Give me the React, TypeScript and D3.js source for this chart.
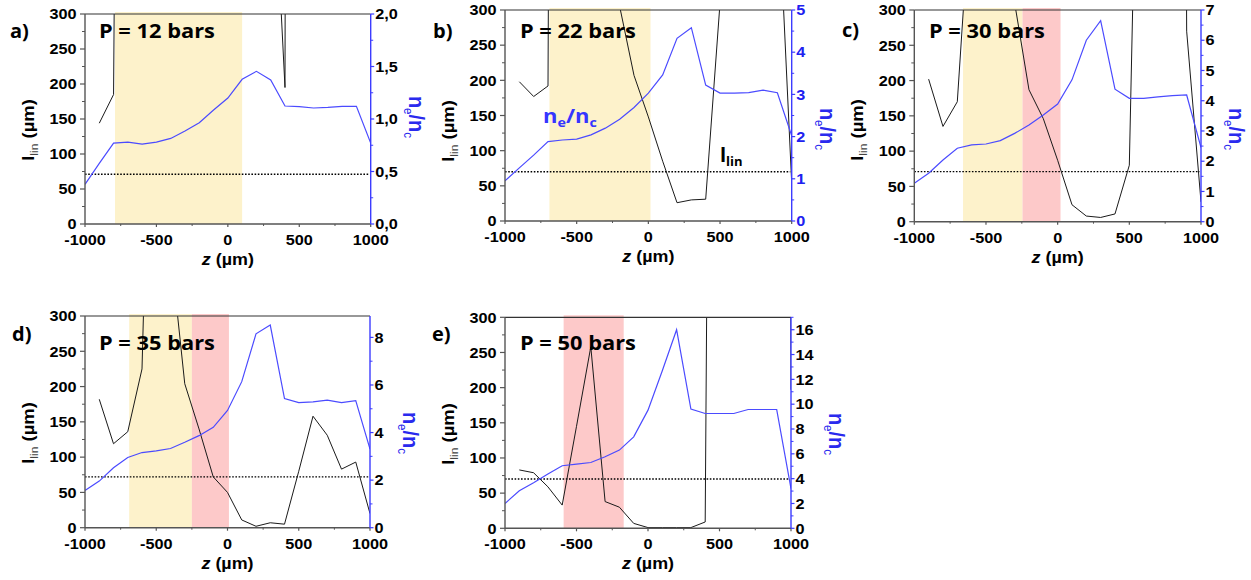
import React from 'react';
import * as d3 from 'd3';

// ---------- DATA ----------
const zPos = [-1000, -900, -800, -700, -600, -500, -400, -300, -200, -100, 0, 100, 200, 300, 400, 500, 600, 700, 800, 900, 1000];

// l_lin (µm) — values above 300 run off the top of the frame
const llinA = [null, 144, 185, 3000, 3000, 3000, 3000, 3000, 3000, 3000, 3000, 3000, 3000, 600, 195, 10000, 10000, 10000, 10000, 10000, 246];
const llinB = [null, 198, 177, 192, 5000, 5000, 5000, 5000, 305, 207, 148, 85, 26, 30, 31, 310, 5000, 5000, 5000, 490, 54];
const llinC = [null, 202, 135, 170, 480, 5000, 5000, 310, 187, 146, 87, 24, 8, 6, 11, 80, 1036, 5000, 5000, 270, 28];
const llinD = [null, 182, 119, 136, 225, 975, 396, 204, 140, 72, 50, 11, 2, 7, 5, 80, 158, 131, 83, 93, 20];
const llinE = [null, 83, 79, 59, 33, 145, 258, 38, 30, 7, 1, 1, 1, 1, 9, 2920, 5000, 5000, 5000, 10000, 197];

// n_e / n_c
const neA = [0.378, 0.578, 0.77, 0.78, 0.76, 0.78, 0.815, 0.886, 0.965, 1.086, 1.2, 1.378, 1.454, 1.371, 1.124, 1.117, 1.105, 1.11, 1.12, 1.12, 0.77];
const neB = [0.95, 1.26, 1.56, 1.88, 1.92, 1.94, 2.04, 2.2, 2.41, 2.69, 3.03, 3.46, 4.33, 4.58, 3.22, 3.03, 3.03, 3.04, 3.1, 3.04, 2.02];
const neC = [1.27, 1.6, 2.04, 2.43, 2.54, 2.57, 2.68, 2.92, 3.2, 3.53, 3.89, 4.69, 6.0, 6.65, 4.38, 4.08, 4.08, 4.13, 4.17, 4.19, 2.45];
const neD = [1.56, 1.96, 2.52, 2.95, 3.16, 3.23, 3.33, 3.59, 3.87, 4.22, 4.93, 6.14, 8.15, 8.52, 5.43, 5.26, 5.29, 5.36, 5.26, 5.34, 3.3];
const neE = [2.0, 3.03, 3.67, 4.37, 5.04, 5.17, 5.3, 5.76, 6.3, 7.37, 9.52, 12.7, 16.0, 9.6, 9.25, 9.25, 9.25, 9.57, 9.57, 9.57, 3.2];

// shaded z-ranges
const yellowBands = [[-790, 100], [-690, 15], [-660, -245], [-690, -250], null];
const redBands = [null, null, [-245, 20], [-250, 10], [-590, -170]];

const threshold = [71, 70, 71, 72, 70];
const pressures = [12, 22, 30, 35, 50];
const panelLetters = ['a)', 'b)', 'c)', 'd)', 'e)'];

const leftTicks = [0, 50, 100, 150, 200, 250, 300];
const leftMinor = [25, 75, 125, 175, 225, 275];
const xTicks = [-1000, -500, 0, 500, 1000];
const xMinor = [-750, -250, 250, 750];
const rightMax = [2, 5, 7, 8.9, 17];
const rightStep = [0.5, 1, 1, 2, 2];
const rightMinorStep = [0.25, 0.5, 0.5, 1, 1];

// ---------- LAYOUT ----------
const layouts = [
  { left: 85, right: 370.7, top: 14, bottom: 224, lx: 10, ly: 38, px: 99, py: 38, rtDx: 38, rtY: 117, ltY: 130, rColor: '#000' },
  { left: 505, right: 791.7, top: 10, bottom: 221, lx: 433, ly: 38, px: 520, py: 38, rtDx: 28, rtY: 129, ltY: 131, rColor: '#2020f0' },
  { left: 914.3, right: 1201, top: 10, bottom: 221.7, lx: 842, ly: 37, px: 929, py: 38, rtDx: 28, rtY: 129, ltY: 130, rColor: '#000' },
  { left: 85, right: 370, top: 316, bottom: 527.7, lx: 12, ly: 341, px: 99, py: 350, rtDx: 33, rtY: 433, ltY: 433, rColor: '#000' },
  { left: 505, right: 791, top: 317.3, bottom: 528.3, lx: 432, ly: 341, px: 520, py: 350, rtDx: 38, rtY: 434, ltY: 434, rColor: '#000' },
];

const llinAll = [llinA, llinB, llinC, llinD, llinE];
const neAll = [neA, neB, neC, neD, neE];

const ARIAL = '"Liberation Sans", Arial, sans-serif';
const CAL = '"Open Sans", "Noto Sans", sans-serif';
const BLUE_LINE = '#4b4bff';
const BLUE_AXIS = '#3c3cff';
const FRAME = '#555';
const SX = 1.12;
const TICK_FS = 14.5;

function range(a: number, b: number, s: number) {
  const out: number[] = [];
  for (let v = a; v <= b + 1e-9; v += s) out.push(Math.round(v * 1000) / 1000);
  return out;
}

function Panel({ i }: { i: number }) {
  const L = layouts[i];
  const x = d3.scaleLinear().domain([-1000, 1000]).range([L.left, L.right]);
  const yL = d3.scaleLinear().domain([0, 300]).range([L.bottom, L.top]);
  const yR = d3.scaleLinear().domain([0, rightMax[i]]).range([L.bottom, L.top]);
  const black = zPos.map((z, k) => [z, llinAll[i][k]] as [number, number | null]);
  const blue = zPos.map((z, k) => [z, neAll[i][k]] as [number, number]);
  const lineL = d3.line<[number, number | null]>().defined(d => d[1] != null).x(d => x(d[0])).y(d => yL(d[1] as number));
  const lineR = d3.line<[number, number]>().x(d => x(d[0])).y(d => yR(d[1]));
  const rMajor = range(0, rightMax[i], rightStep[i]);
  const rMinor = range(0, rightMax[i], rightMinorStep[i]).filter(v => !rMajor.includes(v));
  const fmtR = (v: number) => (i === 0 ? d3.format('.1f')(v).replace('.', ',') : String(v));
  const clipId = `clip-${i}`;
  const yb = yellowBands[i];
  const rb = redBands[i];
  const cx = (L.left + L.right) / 2;

  return (
    <g>
      <defs>
        <clipPath id={clipId}>
          <rect x={L.left} y={L.top} width={L.right - L.left} height={L.bottom - L.top} />
        </clipPath>
      </defs>
      {yb && <rect x={x(yb[0])} y={L.top - 2} width={x(yb[1]) - x(yb[0])} height={L.bottom - L.top + 2} fill="#fdf2cb" />}
      {rb && <rect x={x(rb[0])} y={L.top - 2} width={x(rb[1]) - x(rb[0])} height={L.bottom - L.top + 2} fill="#fdc9c9" />}
      <line x1={x(-1000)} x2={x(990)} y1={yL(threshold[i])} y2={yL(threshold[i])} stroke="#000" strokeWidth={1.4} strokeDasharray="1.6,1.6" />
      <g clipPath={`url(#${clipId})`}>
        <path d={lineL(black) || ''} fill="none" stroke="#1a1a1a" strokeWidth={1} />
        <path d={lineR(blue) || ''} fill="none" stroke={BLUE_LINE} strokeWidth={1.2} />
      </g>
      {/* frame */}
      <line x1={L.left} x2={L.right} y1={L.top} y2={L.top} stroke="#333" strokeWidth={1.2} />
      <line x1={L.left} x2={L.right} y1={L.bottom} y2={L.bottom} stroke={FRAME} strokeWidth={1.4} />
      <line x1={L.left} x2={L.left} y1={L.top} y2={L.bottom} stroke={FRAME} strokeWidth={1.4} />
      <line x1={L.right} x2={L.right} y1={L.top} y2={L.bottom} stroke={BLUE_AXIS} strokeWidth={1.4} />
      {/* left axis */}
      {leftTicks.map(v => (
        <g key={'l' + v}>
          <line x1={L.left - 5} x2={L.left} y1={yL(v)} y2={yL(v)} stroke={FRAME} strokeWidth={1.2} />
          <text transform={`translate(${L.left - 8.5},${yL(v)}) scale(${SX},1)`} dy="0.36em" textAnchor="end" fontFamily={ARIAL} fontWeight="bold" fontSize={TICK_FS} fill="#000">{v}</text>
        </g>
      ))}
      {leftMinor.map(v => (
        <line key={'lm' + v} x1={L.left - 3} x2={L.left} y1={yL(v)} y2={yL(v)} stroke={FRAME} strokeWidth={1} />
      ))}
      {/* bottom axis */}
      {xTicks.map(v => (
        <g key={'x' + v}>
          <line x1={x(v)} x2={x(v)} y1={L.bottom} y2={L.bottom + 3} stroke={FRAME} strokeWidth={1.2} />
          <text transform={`translate(${x(v)},${L.bottom + 21}) scale(${SX},1)`} textAnchor="middle" fontFamily={ARIAL} fontWeight="bold" fontSize={TICK_FS} fill="#000">{v}</text>
        </g>
      ))}
      {xMinor.map(v => (
        <line key={'xm' + v} x1={x(v)} x2={x(v)} y1={L.bottom} y2={L.bottom + 2} stroke={FRAME} strokeWidth={1} />
      ))}
      {/* right axis */}
      {rMajor.map(v => (
        <g key={'r' + v}>
          <line x1={L.right} x2={L.right + 3.5} y1={yR(v)} y2={yR(v)} stroke={BLUE_AXIS} strokeWidth={1.2} />
          <text transform={`translate(${L.right + 4.5},${yR(v)}) scale(${SX},1)`} dy="0.36em" textAnchor="start" fontFamily={ARIAL} fontWeight="bold" fontSize={TICK_FS} fill={L.rColor}>{fmtR(v)}</text>
        </g>
      ))}
      {rMinor.map(v => (
        <line key={'rm' + v} x1={L.right} x2={L.right + 2.5} y1={yR(v)} y2={yR(v)} stroke={BLUE_AXIS} strokeWidth={1} />
      ))}
      {/* axis titles */}
      <text transform={`translate(${cx},${L.bottom + 41}) scale(${SX},1)`} textAnchor="middle" fontFamily={ARIAL} fontWeight="bold" fontSize={16} fill="#000">
        <tspan fontStyle="italic">z</tspan> (µm)
      </text>
      <text transform={`translate(${L.left - 51},${L.ltY}) rotate(-90) scale(1.15,1)`} textAnchor="middle" fontFamily={ARIAL} fontWeight="bold" fontSize={16} fill="#000">
        l<tspan fontSize={10.5} dy={3.5} fontWeight="normal" fill="#444">lin</tspan><tspan dy={-3.5}> (µm)</tspan>
      </text>
      <text transform={`translate(${L.right + L.rtDx},${L.rtY}) rotate(90) scale(1.05,1.15)`} textAnchor="middle" fontFamily={ARIAL} fontWeight="bold" fontSize={19} fill="#2a2aee">
        n<tspan fontSize={11} dy={4} fontWeight="normal">e</tspan><tspan dy={-4}>/n</tspan><tspan fontSize={11} dy={4} fontWeight="normal">c</tspan>
      </text>
      {/* panel label & pressure */}
      <text x={L.lx} y={L.ly} fontFamily={CAL} fontWeight="bold" fontSize={20} fill="#000">{panelLetters[i]}</text>
      <text transform={`translate(${L.px},${L.py}) scale(1.12,1)`} fontFamily={CAL} fontWeight="bold" fontSize={19.5} fill="#000">{`P = ${pressures[i]} bars`}</text>
    </g>
  );
}

export default function App() {
  return (
    <svg width={1251} height={580} style={{ position: 'absolute', left: 0, top: 0, background: '#fff' }}>
      <rect x={0} y={0} width={1251} height={580} fill="#fff" />
      {layouts.map((_, i) => <Panel key={i} i={i} />)}
      {/* in-plot series labels of panel b */}
      <text transform="translate(543,122.7) scale(1.1,1)" fontFamily={CAL} fontWeight="bold" fontSize={20} fill="#3535ff">
        n<tspan fontSize={13} dy={4}>e</tspan><tspan dy={-4}>/n</tspan><tspan fontSize={13} dy={4}>c</tspan>
      </text>
      <text x={720} y={162} fontFamily={CAL} fontWeight="bold" fontSize={20} fill="#000">
        l<tspan fontSize={13} dy={4}>lin</tspan>
      </text>
    </svg>
  );
}
